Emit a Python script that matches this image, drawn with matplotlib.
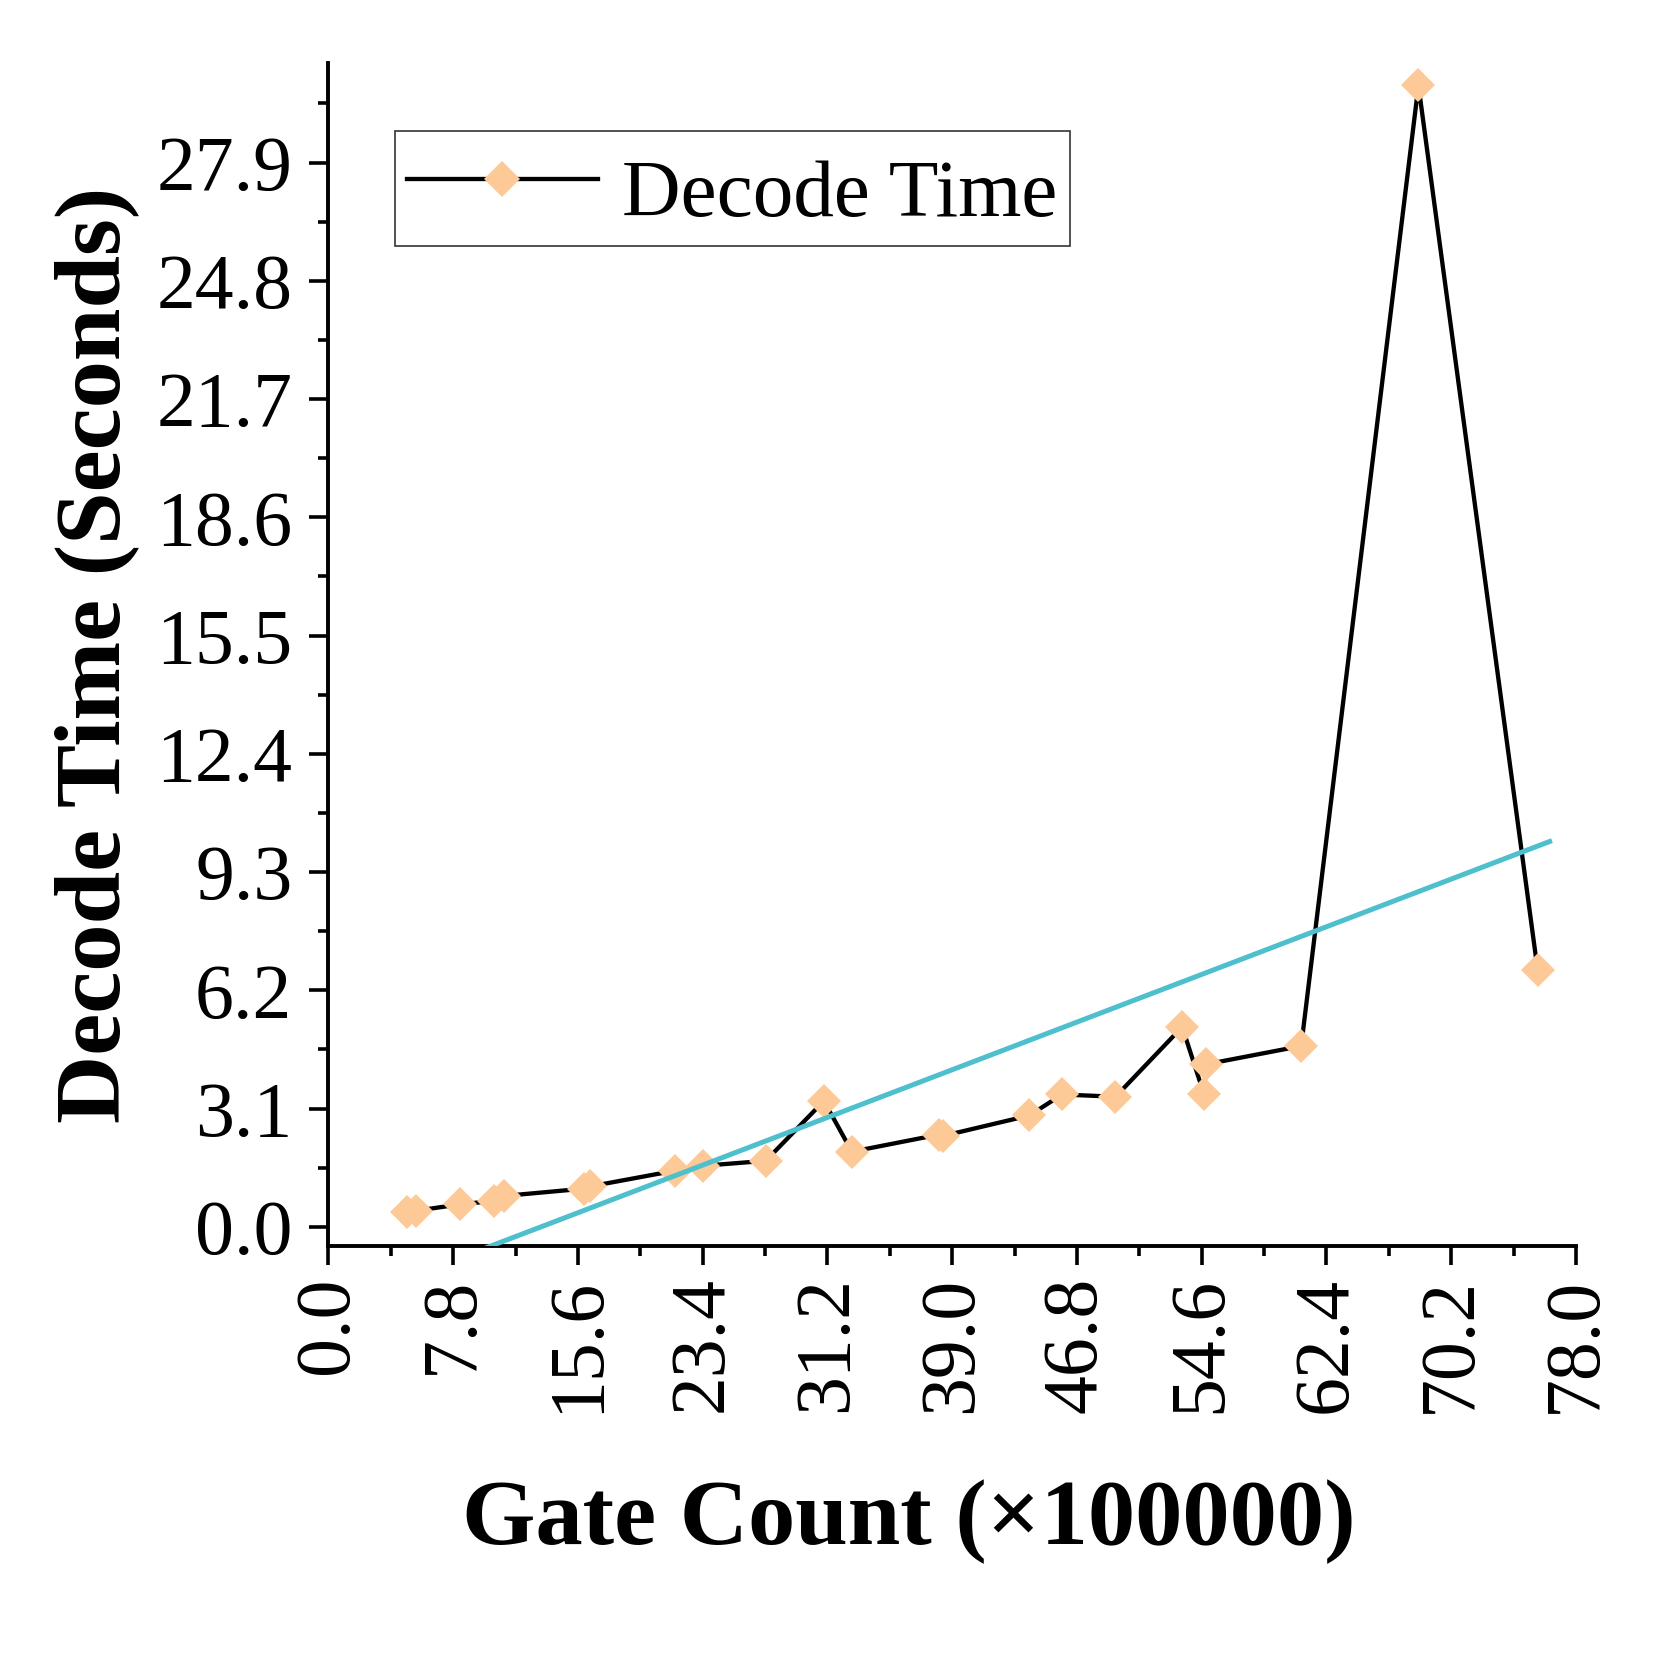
import matplotlib
matplotlib.use("Agg")
import matplotlib.pyplot as plt
from matplotlib.lines import Line2D
import numpy as np

plt.rcParams['font.family'] = ['Liberation Serif', 'DejaVu Serif']
plt.rcParams['mathtext.fontset'] = 'stix'

gate_count = [4.94, 5.46, 8.22, 10.38, 10.98, 15.96, 16.37, 21.64, 23.39, 27.34,
              30.98, 32.73, 38.2, 38.4, 43.83, 45.87, 49.21, 53.38, 54.75, 54.86,
              60.82, 68.15, 75.6]
decode_time = [0.39, 0.42, 0.59, 0.68, 0.81, 1.00, 1.06, 1.47, 1.60, 1.73,
               3.30, 1.97, 2.42, 2.38, 2.92, 3.47, 3.41, 5.24, 3.47, 4.26,
               4.74, 29.92, 6.74]
# fitted trend line
fit_slope = 0.1602
fit_intercept = -2.13
fit_x_range = [4.94, 76.35]

x_ticks = [0.0, 7.8, 15.6, 23.4, 31.2, 39.0, 46.8, 54.6, 62.4, 70.2, 78.0]
y_ticks = [0.0, 3.1, 6.2, 9.3, 12.4, 15.5, 18.6, 21.7, 24.8, 27.9]

fig = plt.figure(figsize=(16.67, 16.67), dpi=100)
ax = fig.add_axes([0.197, 0.2526, 0.7484, 0.7094])

ax.plot(gate_count, decode_time, color='black', lw=3.1, zorder=2)
ax.plot(gate_count, decode_time, linestyle='none', marker='D', ms=17.5,
        markerfacecolor='#FDC997', markeredgewidth=0, zorder=3)
fx = np.array(fit_x_range)
ax.plot(fx, fit_slope * fx + fit_intercept, color='#4EBFCD', lw=3.6, zorder=4)

ax.set_xlim(0, 78.0)
ax.set_ylim(-0.5, 30.5)
ax.set_xticks(x_ticks)
ax.set_xticklabels([f"{v:.1f}" for v in x_ticks], rotation=90, va='top', ha='center')
ax.set_yticks(y_ticks)
ax.set_yticklabels([f"{v:.1f}" for v in y_ticks])
ax.set_xticks([v + 3.9 for v in x_ticks[:-1]], minor=True)
ax.set_yticks([v + 1.55 for v in y_ticks], minor=True)

for s in ['top', 'right']:
    ax.spines[s].set_visible(False)
for s in ['left', 'bottom']:
    ax.spines[s].set_linewidth(2.8)

ax.tick_params(axis='both', which='major', direction='out', length=14, width=2.6,
               labelsize=56)
ax.tick_params(axis='y', which='major', pad=12)
ax.tick_params(axis='x', which='major', pad=8)
ax.tick_params(axis='both', which='minor', direction='out', length=7, width=2.6)

ax.set_xlabel('Gate Count (×100000)', fontsize=68, fontweight='bold', labelpad=48)
ax.xaxis.label.set_x(0.465)
ax.set_ylabel('Decode Time (Seconds)', fontsize=68, fontweight='bold', labelpad=12)

handle = Line2D([], [], color='black', lw=3.1, marker='D', ms=18,
                markerfacecolor='#FDC997', markeredgewidth=0)
leg = ax.legend([handle], ['Decode Time'], loc='upper left',
                bbox_to_anchor=(0.053, 0.943), borderaxespad=0, fontsize=58.5,
                frameon=True, fancybox=False, edgecolor='black', handlelength=2.35,
                handleheight=1.35, borderpad=0.15, handletextpad=0.3)
leg.get_frame().set_linewidth(1.2)

fig.savefig('out.png', dpi=100)
